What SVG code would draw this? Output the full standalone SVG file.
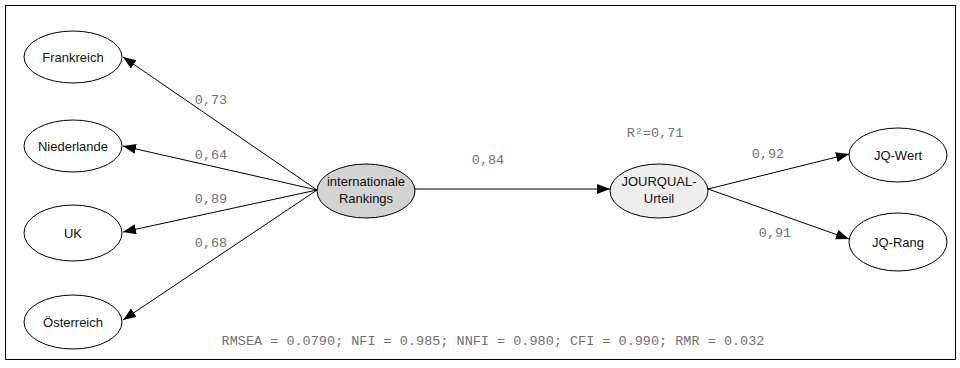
<svg xmlns="http://www.w3.org/2000/svg" width="960" height="368" viewBox="0 0 960 368">
<style>
.node ellipse{stroke:#000;stroke-width:1}
.node text{font-family:"Liberation Sans",Arial,sans-serif;font-size:13px;fill:#111;text-anchor:middle}
.lbl{font-family:"Liberation Mono","Courier New",monospace;font-size:13.5px;fill:#707070;text-anchor:middle}
.conn line{stroke:#000;stroke-width:1;marker-end:url(#ah)}
</style>
<defs>
<marker id="ah" markerUnits="userSpaceOnUse" markerWidth="14" markerHeight="12" refX="13" refY="5" orient="auto">
<path d="M0,0 L13,5 L0,10 z" fill="#000"/>
</marker>
</defs>
<rect x="5.5" y="5.5" width="950" height="354" fill="#fff" stroke="#000" stroke-width="1"/>
<g id="connectors" class="conn">
<line x1="317" y1="190" x2="123" y2="57"/>
<line x1="317" y1="190" x2="123" y2="146"/>
<line x1="317" y1="190" x2="123" y2="232"/>
<line x1="317" y1="190" x2="123" y2="320"/>
<line x1="415" y1="189" x2="610" y2="189"/>
<line x1="708" y1="189" x2="849" y2="154"/>
<line x1="708" y1="189" x2="849" y2="239"/>
</g>
<g id="labels">
<text class="lbl" x="211" y="104">0,73</text>
<text class="lbl" x="211" y="159">0,64</text>
<text class="lbl" x="211" y="203">0,89</text>
<text class="lbl" x="211" y="247">0,68</text>
<text class="lbl" x="488" y="164">0,84</text>
<text class="lbl" x="655" y="137">R²=0,71</text>
<text class="lbl" x="768" y="158">0,92</text>
<text class="lbl" x="775" y="237">0,91</text>
<text class="lbl" x="493" y="345">RMSEA = 0.0790; NFI = 0.985; NNFI = 0.980; CFI = 0.990; RMR = 0.032</text>
</g>
<g id="frankreich" class="node"><ellipse cx="73" cy="57" rx="49" ry="26" fill="#fff"/><text x="73" y="61.5">Frankreich</text></g>
<g id="niederlande" class="node"><ellipse cx="73" cy="146" rx="49" ry="26" fill="#fff"/><text x="73" y="150.5">Niederlande</text></g>
<g id="uk" class="node"><ellipse cx="73" cy="233" rx="49" ry="28" fill="#fff"/><text x="73" y="237.5">UK</text></g>
<g id="oesterreich" class="node"><ellipse cx="73" cy="322" rx="49" ry="27" fill="#fff"/><text x="73" y="326.5">Österreich</text></g>
<g id="internationale" class="node"><ellipse cx="366" cy="191" rx="49" ry="27" fill="#d3d3d3"/><text x="366" y="186">internationale</text><text x="366" y="203">Rankings</text></g>
<g id="jourqual" class="node"><ellipse cx="659" cy="191" rx="49" ry="27" fill="#eeeeee"/><text x="659" y="186">JOURQUAL-</text><text x="659" y="203">Urteil</text></g>
<g id="jqwert" class="node"><ellipse cx="898" cy="155" rx="49" ry="27" fill="#fff"/><text x="898" y="159.5">JQ-Wert</text></g>
<g id="jqrang" class="node"><ellipse cx="898" cy="242" rx="49" ry="29" fill="#fff"/><text x="898" y="246.5">JQ-Rang</text></g>
</svg>
